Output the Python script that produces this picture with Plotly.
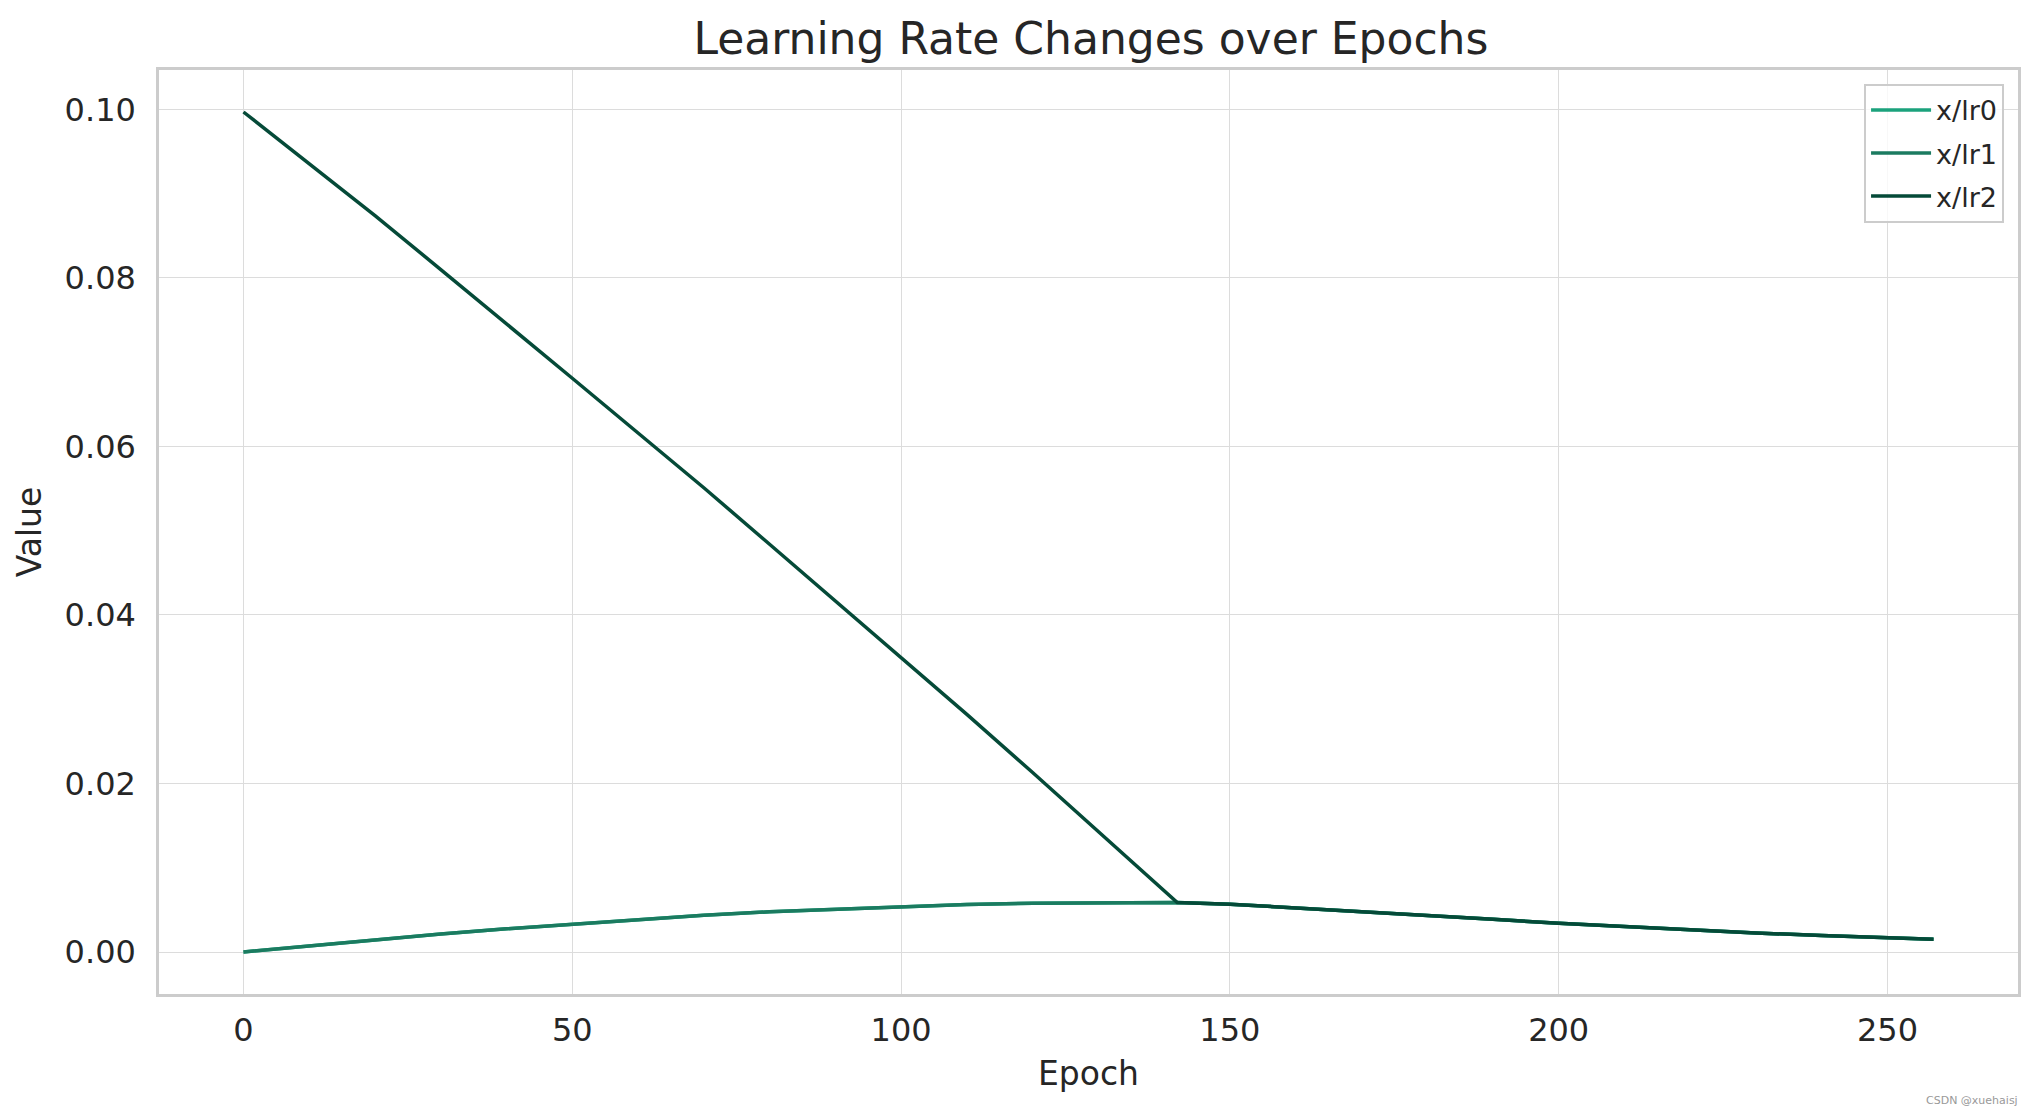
import plotly.graph_objects as go

epochs = [0, 10, 20, 30, 40, 50, 60, 70, 80, 90, 100, 110, 120, 130, 140, 142,
          150, 160, 170, 180, 190, 200, 210, 220, 230, 240, 250, 257]
lr0 = [0.0, 0.00073, 0.00145, 0.00213, 0.00275, 0.00331, 0.00382, 0.00436, 0.00478,
       0.00510, 0.00541, 0.00564, 0.00580, 0.00587, 0.00588, 0.00587,
       0.00568, 0.00525, 0.00480, 0.00434, 0.00388, 0.00342, 0.00300, 0.00261,
       0.00226, 0.00196, 0.00170, 0.00152]
lr1 = list(lr0)
lr2 = [0.0997, 0.0935, 0.0874, 0.0810, 0.0746, 0.0681, 0.0616, 0.0551, 0.0484,
       0.0417, 0.0350, 0.0282, 0.0213, 0.0143, 0.0073, 0.00587,
       0.00568, 0.00525, 0.00480, 0.00434, 0.00388, 0.00342, 0.00300, 0.00261,
       0.00226, 0.00196, 0.00170, 0.00152]
series_names = ["x/lr0", "x/lr1", "x/lr2"]
colors = ["#1ba27c", "#1b7b60", "#054a38"]
y_ticks = [0.00, 0.02, 0.04, 0.06, 0.08, 0.10]
x_ticks = [0, 50, 100, 150, 200, 250]

fig = go.Figure()
for name, vals, c in zip(series_names, [lr0, lr1, lr2], colors):
    fig.add_trace(go.Scatter(x=epochs, y=vals, mode="lines", name=name, legendgroup=name,
                             line=dict(color=c, width=3.5)))

xmin, xmax = min(epochs), max(epochs)
allv = lr0 + lr1 + lr2
ymin, ymax = min(allv), max(allv)
xpad = 0.05 * (xmax - xmin)
ypad = 0.05 * (ymax - ymin)

font = "DejaVu Sans, Liberation Sans, sans-serif"
axis_common = dict(showgrid=True, gridcolor="#dcdcdc", gridwidth=1.3,
                   zeroline=False, showline=True, linecolor="#cccccc", linewidth=2.5,
                   mirror=True, ticks="", tickfont=dict(size=32, color="#262626", family=font),
                   color="#262626")

fig.update_layout(
    width=2038, height=1111,
    paper_bgcolor="white", plot_bgcolor="white",
    margin=dict(l=159, r=20, t=70, b=117),
    title=dict(text="Learning Rate Changes over Epochs", x=0.5353, xanchor="center",
               y=0.965, yanchor="middle",
               font=dict(size=44, color="#262626", family=font)),
    font=dict(family=font, color="#262626"),
    xaxis=dict(range=[xmin - xpad, xmax + xpad], tickvals=x_ticks,
               title=dict(text="Epoch", font=dict(size=33, family=font, color="#262626"), standoff=14),
               ticklabelstandoff=6, **axis_common),
    yaxis=dict(range=[ymin - ypad, ymax + ypad], tickvals=y_ticks, tickformat=".2f",
               title=dict(text="Value", font=dict(size=33, family=font, color="#262626"), standoff=14),
               ticklabelstandoff=14, **axis_common),
    legend=dict(x=0.9925, y=0.985, xanchor="right", yanchor="top",
                bgcolor="rgba(255,255,255,0.8)", bordercolor="#cccccc", borderwidth=2,
                font=dict(size=27, family=font, color="#262626"), itemwidth=60,
                tracegroupgap=5),
    showlegend=True,
)
fig.add_annotation(text="CSDN @xuehaisj", xref="paper", yref="paper", x=1.001, y=-0.1158,
                   xanchor="right", yanchor="middle", showarrow=False,
                   font=dict(size=11, color="#999999", family=font))

fig.write_html("out.html")
